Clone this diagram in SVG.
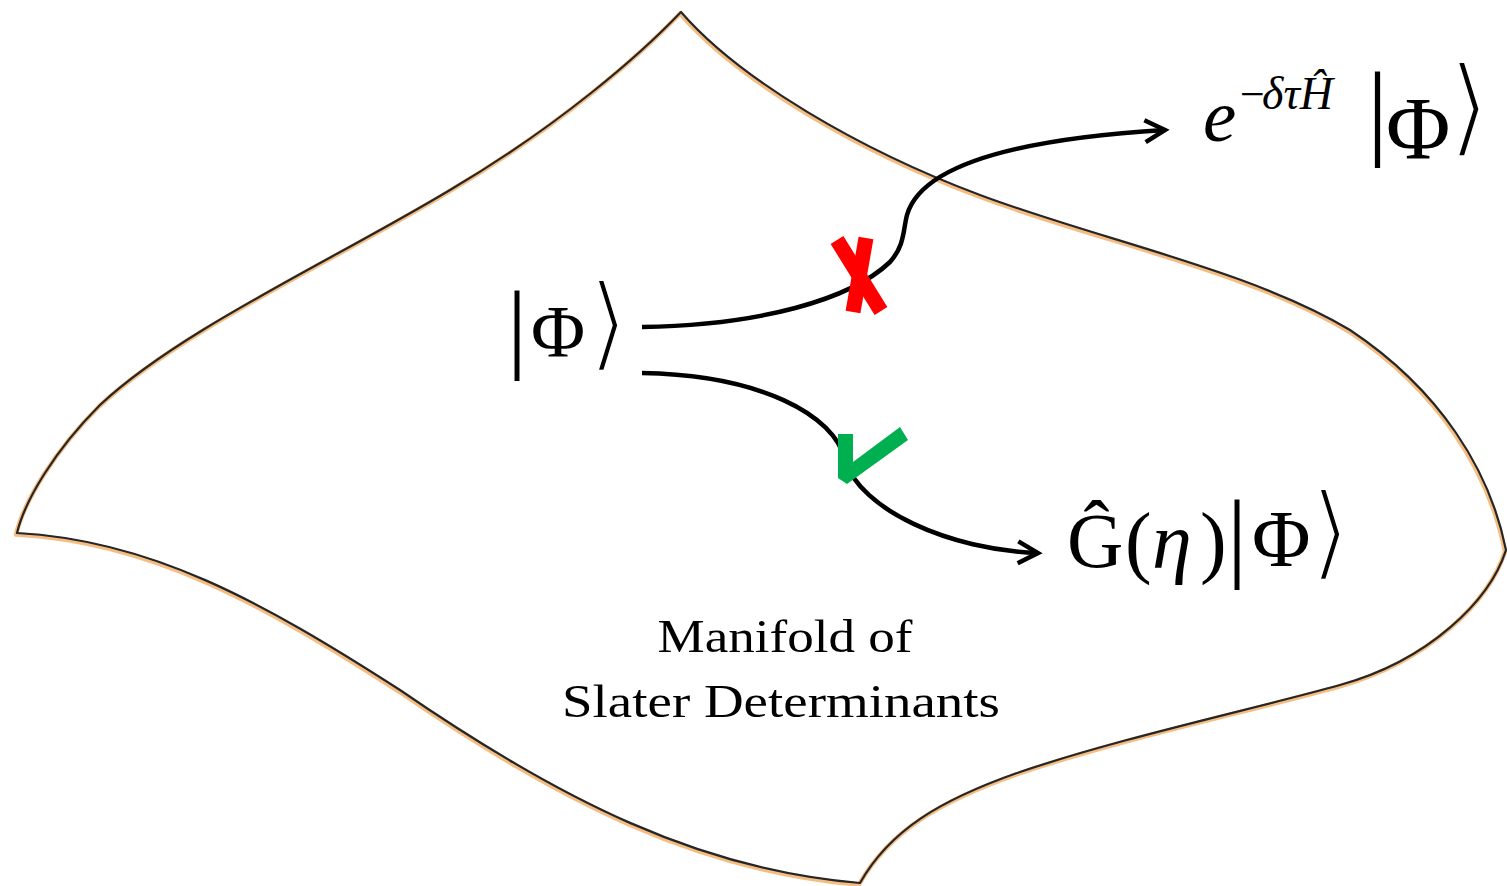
<svg xmlns="http://www.w3.org/2000/svg" width="1507" height="886" viewBox="0 0 1507 886">
<style>
.serif{font-family:"Liberation Serif","Times New Roman",serif;fill:#000}
.it{font-style:italic}
.br{font-family:"DejaVu Sans",sans-serif;fill:#000;stroke:#fff;stroke-width:4;paint-order:fill stroke;stroke-linejoin:miter}
.conn{fill:none;stroke:#000;stroke-width:4.5}
.halo{fill:none;stroke:#f6bd82;stroke-width:4.5;stroke-linejoin:round}
.edge{fill:none;stroke:#262626;stroke-width:2.2;stroke-linejoin:round}
</style>
<defs>
<marker id="arr" markerUnits="userSpaceOnUse" markerWidth="30" markerHeight="30" viewBox="-24 -15 30 30" refX="0" refY="0" orient="auto">
<path d="M-20,-11 L0,0 L-20,11" fill="none" stroke="#000" stroke-width="4.5" stroke-linejoin="miter"/>
</marker>
<path id="outline" d="M681,12 C640,55 560,125 450,190 C330,262 180,330 100,405 C55,450 25,500 17,533 C150,540 260,600 400,690 C560,800 700,870 860,883 C890,830 940,800 1020,772 C1120,738 1250,710 1340,685 C1430,660 1490,600 1506,550 C1490,470 1440,390 1350,330 C1250,270 1100,240 980,195 C860,150 740,80 681,12 Z"/>
</defs>
<rect width="1507" height="886" fill="#fff"/>
<g id="manifold">
<use href="#outline" class="halo" transform="translate(-1,1.5)"/>
<use href="#outline" class="edge"/>
<text class="serif" x="785" y="652" font-size="47" text-anchor="middle" textLength="255" lengthAdjust="spacingAndGlyphs">Manifold of</text>
<text class="serif" x="781" y="717" font-size="47" text-anchor="middle" textLength="438" lengthAdjust="spacingAndGlyphs">Slater Determinants</text>
</g>
<g id="connectors">
<path class="conn" d="M642,327 C760,325 850,300 890,262 C905,245 903,230 907,215 C920,170 1000,140 1165,130" marker-end="url(#arr)"/>
<path class="conn" d="M642,373 C760,375 835,415 845,460 C860,510 950,550 1038,553" marker-end="url(#arr)"/>
</g>
<g id="cross">
<line x1="837" y1="240" x2="881" y2="311" stroke="#ff0000" stroke-width="15"/>
<line x1="866" y1="238" x2="853" y2="312" stroke="#ff0000" stroke-width="15"/>
</g>
<g id="check">
<polygon points="838,434 853,434 853,462 900,427 908,440 847,484 838,478" fill="#00b050"/>
</g>
<g id="ket-phi">
<text class="serif" x="507" y="360" font-size="100">|</text>
<text class="serif" x="531" y="357" font-size="74">Φ</text>
<text class="br" x="588" y="358" font-size="104">⟩</text>
</g>
<g id="ket-evolved">
<text class="serif it" x="1203" y="141" font-size="75">e</text>
<text class="serif" x="1240" y="109" font-size="44">−</text>
<text class="serif it" x="1262" y="109" font-size="46">δτĤ</text>
<text class="serif" x="1367" y="145" font-size="105">|</text>
<text class="serif" x="1386" y="158" font-size="88">Φ</text>
<text class="br" x="1448" y="143" font-size="108">⟩</text>
</g>
<g id="ket-projected">
<text class="serif" x="1067" y="567" font-size="78">Ĝ</text>
<text class="serif" x="1125" y="568" font-size="80">(</text>
<text class="serif it" x="1152" y="568" font-size="80">η</text>
<text class="serif" x="1200" y="568" font-size="80">)</text>
<text class="serif" x="1227" y="569" font-size="100">|</text>
<text class="serif" x="1252" y="566" font-size="80">Φ</text>
<text class="br" x="1310" y="567" font-size="104">⟩</text>
</g>
</svg>
